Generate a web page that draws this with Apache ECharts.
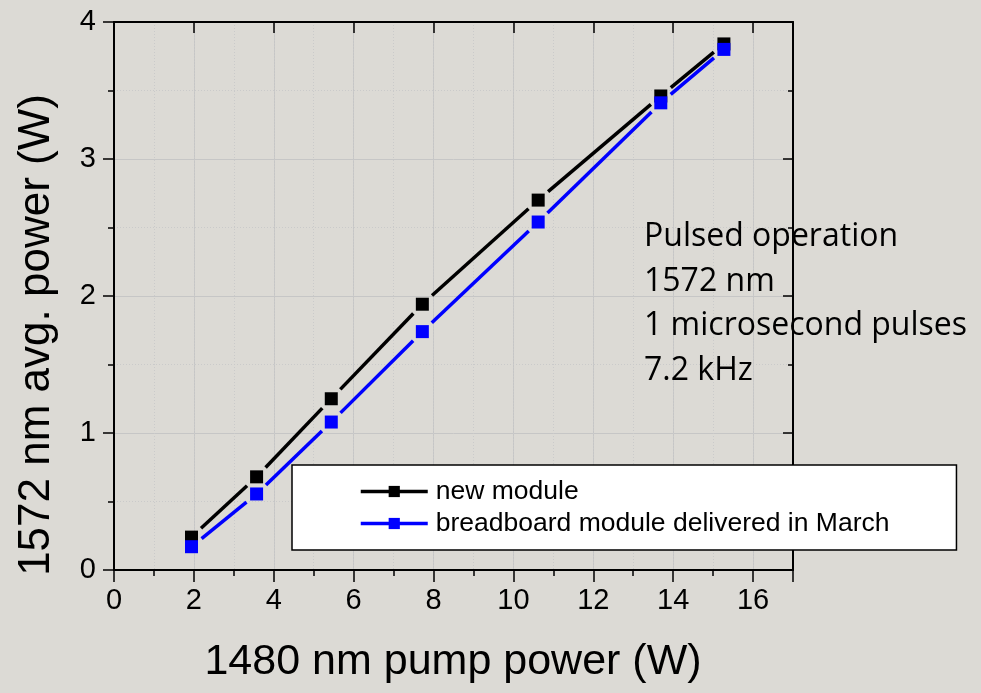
<!DOCTYPE html>
<html>
<head>
<meta charset="utf-8">
<title>1572 nm output vs 1480 nm pump power</title>
<script src="https://cdn.jsdelivr.net/npm/echarts@6/dist/echarts.min.js"></script>
<style>
  html, body { margin: 0; padding: 0; background: #dcdad5; }
  #chart { width: 981px; height: 693px; }
</style>
</head>
<body>
<div id="chart"></div>
<script>
// Pump power (W) at each measurement
const pumpPower = [1.94, 3.57, 5.44, 7.72, 10.62, 13.69, 15.27];
// Average output power (W) at 1572 nm
const newModule = [0.24, 0.68, 1.25, 1.94, 2.70, 3.46, 3.84];
const breadboardModule = [0.17, 0.555, 1.08, 1.74, 2.54, 3.41, 3.80];

const seriesNames = ['new module', 'breadboard module delivered in March'];
const seriesColors = ['#000000', '#0000ff'];
const xTicks = [0, 2, 4, 6, 8, 10, 12, 14, 16];
const yTicks = [0, 1, 2, 3, 4];
const noteLines = ['Pulsed operation', '1572 nm', '1 microsecond pulses', '7.2 kHz'];

const FONT = '"Liberation Sans", Arial, sans-serif';

// segments between consecutive points, drawn with a gap at each marker
function segments(xs, ys) {
  const out = [];
  for (let i = 0; i < xs.length - 1; i++) out.push([xs[i], ys[i], xs[i + 1], ys[i + 1]]);
  return out;
}

function gapRenderer(color) {
  return function (params, api) {
    const a = api.coord([api.value(0), api.value(1)]);
    const b = api.coord([api.value(2), api.value(3)]);
    const dx = b[0] - a[0], dy = b[1] - a[1];
    const len = Math.sqrt(dx * dx + dy * dy);
    const gap = 13;
    if (len <= 2 * gap) return null;
    const ux = dx / len, uy = dy / len;
    return {
      type: 'line',
      shape: { x1: a[0] + ux * gap, y1: a[1] + uy * gap, x2: b[0] - ux * gap, y2: b[1] - uy * gap },
      style: { stroke: color, lineWidth: 3.5 }
    };
  };
}

const chart = echarts.init(document.getElementById('chart'));

const axisLineBlack = { show: true, onZero: false, lineStyle: { color: '#000', width: 2 } };
const majorGrid = { show: true, lineStyle: { color: '#c6c6c6', width: 1, type: 'solid' } };
const minorGrid = { show: true, lineStyle: { color: '#cacaca', width: 1, type: [1, 2] } };

const option = {
  backgroundColor: '#dcdad5',
  animation: false,
  grid: { left: 114, right: 188, top: 22, bottom: 123, containLabel: false },
  xAxis: [
    { // bottom: labels, major ticks, major grid
      type: 'value', position: 'bottom', min: 0, max: 17, interval: 2,
      axisLine: axisLineBlack,
      axisTick: { show: true, inside: false, length: 12, lineStyle: { color: '#000', width: 1.5 } },
      axisLabel: {
        show: true, margin: 16, color: '#000', fontSize: 29, fontFamily: FONT,
        customValues: xTicks
      },
      splitLine: majorGrid
    },
    { // bottom: minor ticks and dotted grid
      type: 'value', position: 'bottom', min: 0, max: 17, interval: 1,
      axisLine: { show: false },
      axisTick: { show: true, inside: false, length: 6, lineStyle: { color: '#000', width: 1.5 } },
      axisLabel: { show: false },
      splitLine: minorGrid
    },
    { // top frame, major ticks inward
      type: 'value', position: 'top', min: 0, max: 17, interval: 2,
      axisLine: axisLineBlack,
      axisTick: { show: true, inside: true, length: 11, lineStyle: { color: '#000', width: 1.5 } },
      axisLabel: { show: false }, splitLine: { show: false }
    },
    { // top frame, minor ticks inward
      type: 'value', position: 'top', min: 0, max: 17, interval: 1,
      axisLine: { show: false },
      axisTick: { show: true, inside: true, length: 6, lineStyle: { color: '#000', width: 1.5 } },
      axisLabel: { show: false }, splitLine: { show: false }
    }
  ],
  yAxis: [
    {
      type: 'value', position: 'left', min: 0, max: 4, interval: 1,
      axisLine: axisLineBlack,
      axisTick: { show: true, inside: false, length: 11, lineStyle: { color: '#000', width: 1.5 } },
      minorTick: { show: true, splitNumber: 2, length: 6, lineStyle: { color: '#000', width: 1.5 } },
      axisLabel: { show: true, margin: 18, color: '#000', fontSize: 29, fontFamily: FONT, customValues: yTicks },
      splitLine: majorGrid,
      minorSplitLine: minorGrid
    },
    {
      type: 'value', position: 'right', min: 0, max: 4, interval: 1,
      axisLine: axisLineBlack,
      axisTick: { show: true, inside: true, length: 10, lineStyle: { color: '#000', width: 1.5 } },
      minorTick: { show: true, splitNumber: 2, length: 5, lineStyle: { color: '#000', width: 1.5 } },
      axisLabel: { show: false }, splitLine: { show: false }
    }
  ],
  legend: {
    orient: 'vertical', left: 292, top: 465,
    data: seriesNames.map(function (n) { return { name: n }; }),
    backgroundColor: '#ffffff', borderColor: '#000000', borderWidth: 1.5, borderRadius: 0,
    padding: [13, 67, 13, 67],
    itemWidth: 67, itemHeight: 14, itemGap: 5,
    lineStyle: { width: 3.5 },
    textStyle: { color: '#000', fontSize: 26.5, fontFamily: FONT, padding: [0, 0, 0, 3] },
    selectedMode: false
  },
  series: [
    {
      name: 'new module segments', type: 'custom', xAxisIndex: 0, yAxisIndex: 0,
      data: segments(pumpPower, newModule), renderItem: gapRenderer(seriesColors[0]),
      encode: { x: [0, 2], y: [1, 3] }, silent: true, z: 2
    },
    {
      name: 'breadboard segments', type: 'custom', xAxisIndex: 0, yAxisIndex: 0,
      data: segments(pumpPower, breadboardModule), renderItem: gapRenderer(seriesColors[1]),
      encode: { x: [0, 2], y: [1, 3] }, silent: true, z: 2
    },
    {
      name: seriesNames[0], type: 'line', xAxisIndex: 0, yAxisIndex: 0,
      data: pumpPower.map(function (x, i) { return [x, newModule[i]]; }),
      symbol: 'rect', symbolSize: 13, showAllSymbol: true,
      itemStyle: { color: seriesColors[0] },
      lineStyle: { width: 0, color: seriesColors[0] }, z: 3
    },
    {
      name: seriesNames[1], type: 'line', xAxisIndex: 0, yAxisIndex: 0,
      data: pumpPower.map(function (x, i) { return [x, breadboardModule[i]]; }),
      symbol: 'rect', symbolSize: 13, showAllSymbol: true,
      itemStyle: { color: seriesColors[1] },
      lineStyle: { width: 0, color: seriesColors[1] }, z: 4
    }
  ],
  graphic: [
    {
      type: 'text', x: 453, y: 662, z: 10,
      style: { text: '1480 nm pump power (W)', font: '43px ' + FONT, fill: '#000', align: 'center', verticalAlign: 'middle' }
    },
    {
      type: 'text', x: 37, y: 335, rotation: Math.PI / 2, z: 10,
      style: { text: '1572 nm avg. power (W)', font: '44px ' + FONT, fill: '#000', align: 'center', verticalAlign: 'middle' }
    }
  ].concat(noteLines.map(function (t, i) {
    return {
      type: 'text', x: 644, y: 237 + i * 44.5, z: 1,
      style: { text: t, font: '32px "Open Sans", Lato, sans-serif', fill: '#000', align: 'left', verticalAlign: 'middle' }
    };
  }))
};

chart.setOption(option);
</script>
</body>
</html>
